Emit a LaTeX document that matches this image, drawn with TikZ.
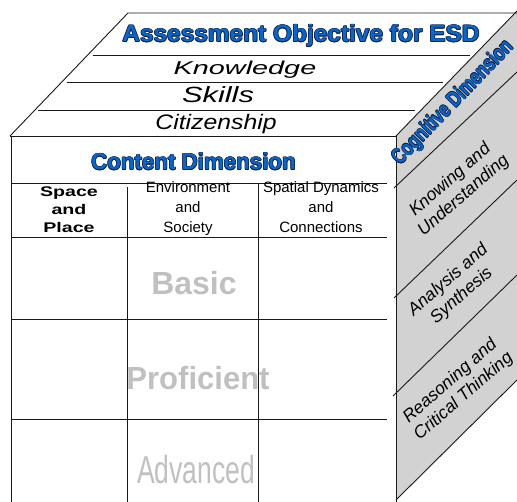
\documentclass[tikz,border=0pt]{standalone}
\usepackage{fontspec}
\setmainfont{Liberation Sans}
\usepackage{graphicx}
\definecolor{esdblue}{RGB}{10,102,200}
\definecolor{olc}{RGB}{15,30,70}
\definecolor{sidegray}{RGB}{210,210,210}
\definecolor{lvlgray}{RGB}{192,192,192}
\newcommand\outl[2][0.7pt]{%
  \setbox0=\hbox{#2}%
  \leavevmode\rlap{\textcolor{olc}{%
    \rlap{\kern#1\copy0}\rlap{\kern-#1\copy0}%
    \rlap{\raise#1\copy0}\rlap{\lower#1\copy0}%
    \rlap{\kern0.5pt\raise0.5pt\copy0}\rlap{\kern-0.5pt\raise0.5pt\copy0}%
    \rlap{\kern0.5pt\lower0.5pt\copy0}\rlap{\kern-0.5pt\lower0.5pt\copy0}}}%
  \textcolor{esdblue}{\copy0}}
\tikzset{
  edge/.style={line width=0.9pt, draw=black!90},
  lbl/.style={inner sep=0pt, outer sep=0pt},
  sidetxt/.style={lbl, rotate=41, align=center,
    font=\fontsize{17.5}{20.5}\selectfont\itshape},
}
\begin{document}
\begin{tikzpicture}[x=1pt,y=-1pt]
\useasboundingbox (0,0) rectangle (517,502);
% side face
\fill[sidegray] (396,136) -- (517,11) -- (517,380) -- (396,500) -- cycle;
\draw[edge] (396,136) -- (517,11);
\draw[edge] (394,188) -- (517,72);
\draw[edge] (394,298) -- (517,180);
\draw[edge] (393,396) -- (517,275);
\draw[edge] (396,500) -- (517,380);
% top face
\draw[edge] (10,136) -- (128,13) -- (517,13);
\draw[edge] (93,55) -- (470,55);
\draw[edge] (67,82) -- (443,82);
\draw[edge] (38,110) -- (415,110);
% front face
\draw[edge] (10,136) -- (396,136);
\draw[edge] (11,136) -- (11,502);
\draw[edge] (396,136) -- (396,502);
\draw[edge] (11,183) -- (387,183);
\draw[edge] (11,237) -- (387,237);
\draw[edge] (11,319) -- (387,319);
\draw[edge] (11,419) -- (387,419);
\draw[edge] (127,187) -- (127,502);
\draw[edge] (258,183) -- (258,502);
% top texts
\node[lbl,anchor=base] (aoe) at (301,42) {\fontsize{23.5}{26}\selectfont\bfseries\scalebox{1.04}[1]{\outl{Assessment Objective for ESD}}};
\node[lbl,anchor=base] (know) at (245,75) {\fontsize{18.6}{20}\selectfont\itshape\scalebox{1.55}[1]{Knowledge}};
\node[lbl,anchor=base] (skill) at (218,103) {\fontsize{22}{24}\selectfont\itshape\scalebox{1.4}[1]{Skills}};
\node[lbl,anchor=base] (citi) at (216,130) {\fontsize{21}{24}\selectfont\itshape\scalebox{1.18}[1]{Citizenship}};
% content dimension
\node[lbl,anchor=base] (cd) at (193.5,170) {\fontsize{23}{26}\selectfont\bfseries\scalebox{0.97}[1]{\outl{Content Dimension}}};
% column headers
\node[lbl,anchor=base] (c1a) at (69,197) {\fontsize{14}{16}\selectfont\bfseries\scalebox{1.4}[1]{Space}};
\node[lbl,anchor=base] (c1b) at (69,215) {\fontsize{14}{16}\selectfont\bfseries\scalebox{1.4}[1]{and}};
\node[lbl,anchor=base] (c1c) at (69,233) {\fontsize{14}{16}\selectfont\bfseries\scalebox{1.4}[1]{Place}};
\node[lbl,anchor=base] (c2a) at (188,193) {\fontsize{15}{16}\selectfont Environment};
\node[lbl,anchor=base] (c2b) at (188,213) {\fontsize{15}{16}\selectfont and};
\node[lbl,anchor=base] (c2c) at (188,233) {\fontsize{15}{16}\selectfont Society};
\node[lbl,anchor=base] (c3a) at (321,193) {\fontsize{15}{16}\selectfont Spatial Dynamics};
\node[lbl,anchor=base] (c3b) at (321,213) {\fontsize{15}{16}\selectfont and};
\node[lbl,anchor=base] (c3c) at (321,233) {\fontsize{15}{16}\selectfont Connections};
% levels
\node[lbl,anchor=base,text=lvlgray] (basic) at (194,295) {\fontsize{32}{34}\selectfont\bfseries Basic};
\node[lbl,anchor=base,text=lvlgray] (prof) at (198,390) {\fontsize{32}{34}\selectfont\bfseries\scalebox{0.97}[1]{Proficient}};
\node[lbl,anchor=base,text=lvlgray] (adv) at (196,483) {\fontsize{39}{40}\selectfont\scalebox{0.68}[1]{Advanced}};
% side texts
\node[lbl,rotate=46] (cog) at (453,103) {\fontsize{22}{24}\selectfont\bfseries\scalebox{0.75}[1]{\outl[0.6pt]{Cognitive Dimension}}};
\node[sidetxt] (ku) at (457,188) {Knowing and\\ Understanding};
\node[sidetxt] (as) at (455,288) {Analysis and\\ Synthesis};
\node[sidetxt] (rc) at (457,389) {Reasoning and\\ Critical Thinking};
\end{tikzpicture}
\end{document}
